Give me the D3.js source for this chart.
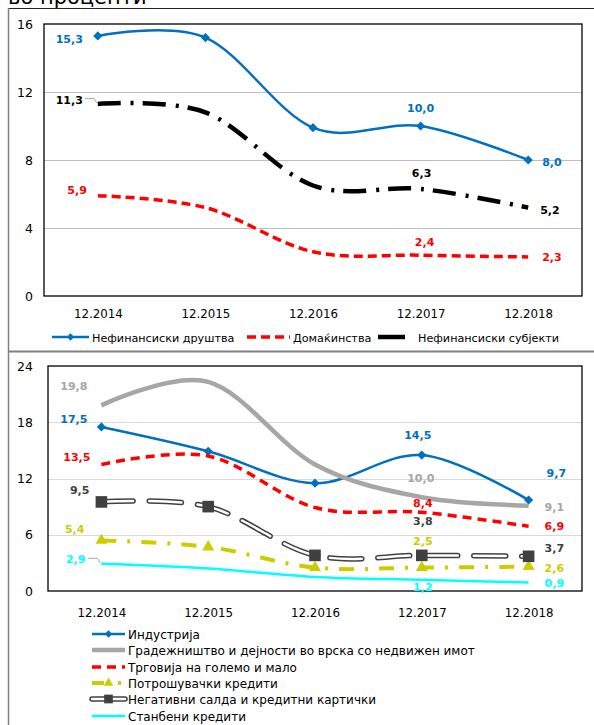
<!DOCTYPE html>
<html><head><meta charset="utf-8">
<script src="https://cdn.jsdelivr.net/npm/d3@7"></script>
<style>body{margin:0;background:#fff} svg{display:block}</style>
</head><body>
<script>
// ---------- DATA ----------
const categories = ["12.2014", "12.2015", "12.2016", "12.2017", "12.2018"];

// top panel
const nefDrustva   = [15.3, 15.2, 9.9, 10.0, 8.0];
const domakinstva  = [5.9, 5.2, 2.6, 2.4, 2.3];
const nefSubjekti  = [11.3, 10.8, 6.5, 6.3, 5.2];
const topTicks     = [0, 4, 8, 12, 16];

// bottom panel
const industrija   = [17.5, 14.9, 11.5, 14.5, 9.7];
const gradeznistvo = [19.8, 22.3, 13.5, 10.0, 9.1];
const trgovija     = [13.5, 14.4, 8.9, 8.4, 6.9];
const potrosuvacki = [5.4, 4.7, 2.5, 2.5, 2.6];
const negativni    = [9.5, 9.0, 3.8, 3.8, 3.7];
const stanbeni     = [2.9, 2.4, 1.5, 1.2, 0.9];
const bottomTicks  = [0, 6, 12, 18, 24];

const titleText = "во проценти";

// ---------- STYLE ----------
const W = 594, H = 725;
const FONT = "DejaVu Sans, Verdana, sans-serif";
const fmt = v => d3.format(".1f")(v).replace(".", ",");

const svg = d3.select("body").append("svg").attr("width", W).attr("height", H);

// title (partially cut at top, as in the reference)
svg.append("text").attr("x", 8).attr("y", 4).attr("font-family", FONT)
  .attr("font-size", 21).attr("fill", "#000").text(titleText);

// outer frame
svg.append("line").attr("x1", 9).attr("x2", W).attr("y1", 8.5).attr("y2", 8.5)
  .attr("stroke", "#222").attr("stroke-width", 1);
svg.append("line").attr("x1", 8.5).attr("x2", 8.5).attr("y1", 8).attr("y2", H)
  .attr("stroke", "#808080").attr("stroke-width", 1.5);
svg.append("line").attr("x1", 9).attr("x2", W).attr("y1", 351.5).attr("y2", 351.5)
  .attr("stroke", "#808080").attr("stroke-width", 2);

const topSeries = [
  {name: "Нефинансиски друштва", values: nefDrustva, color: "#0070C0", width: 2.5, kind: "solid", marker: "diamond"},
  {name: "Домаќинства", values: domakinstva, color: "#FF0000", width: 3.5, kind: "dash", dash: "9,5"},
  {name: "Нефинансиски субјекти", values: nefSubjekti, color: "#000000", width: 4.5, kind: "dash", dash: "23,10,3,9", legendDash: null}
];

const bottomSeries = [
  {name: "Индустрија", values: industrija, color: "#0070C0", width: 2.5, kind: "solid", marker: "diamond"},
  {name: "Градежништво и дејности во врска со недвижен имот", values: gradeznistvo, color: "#A6A6A6", width: 4.5, kind: "solid"},
  {name: "Трговија на големо и мало", values: trgovija, color: "#FF0000", width: 3.5, kind: "dash", dash: "9,6"},
  {name: "Потрошувачки кредити", values: potrosuvacki, color: "#CCCC00", width: 4, kind: "dash", dash: "15,11,3,11", marker: "triangle"},
  {name: "Негативни салда и кредитни картички", values: negativni, color: "#404040", width: 5.5, kind: "double", dash: "32,16", marker: "square", labelColor: "#404040"},
  {name: "Станбени кредити", values: stanbeni, color: "#00FFFF", width: 2.5, kind: "solid"}
];

// label placement: [series, category, anchor, dx, dy(center offset)]
const topLabels = [
  [0, 0, "end", -15, 3], [0, 3, "middle", 0, -18], [0, 4, "start", 14, 2],
  [1, 0, "end", -11, -6], [1, 3, "middle", 4, -13], [1, 4, "start", 14, 0],
  [2, 0, "end", -15, -4], [2, 3, "middle", 1, -16], [2, 4, "start", 12, 2]
];
const bottomLabels = [
  [0, 0, "end", -14, -8], [0, 3, "middle", -4, -20], [0, 4, "start", 18, -27],
  [1, 0, "end", -14, -19], [1, 3, "middle", -1, -19], [1, 4, "start", 16, 1],
  [2, 0, "end", -11, -7], [2, 3, "middle", 1, -9], [2, 4, "start", 16, 0],
  [3, 0, "end", -17, -11], [3, 3, "middle", 1, -27], [3, 4, "start", 16, 1],
  [4, 0, "end", -12, -12], [4, 3, "middle", 1, -34], [4, 4, "start", 16, -8],
  [5, 0, "end", -16, -5], [5, 3, "middle", 1, 7], [5, 4, "start", 16, 0]
];

function markerPath(type) {
  if (type === "diamond") return d3.symbol(d3.symbolSquare, 42)();
  if (type === "triangle") return d3.symbol(d3.symbolTriangle, 62)();
  if (type === "square") return d3.symbol(d3.symbolSquare, 135)();
  return null;
}
function drawMarker(g, type, x, y, color, scaleF = 1) {
  const p = g.append("path").attr("d", markerPath(type)).attr("fill", color);
  const rot = type === "diamond" ? " rotate(45)" : "";
  p.attr("transform", `translate(${x},${y})${rot} scale(${scaleF})`);
}

function strokeLine(g, dStr, s, isLegend) {
  if (s.kind === "double") {
    g.append("path").attr("d", dStr).attr("fill", "none").attr("stroke", s.color)
      .attr("stroke-width", s.width).attr("stroke-linecap", "round")
      .attr("stroke-dasharray", isLegend ? null : s.dash);
    g.append("path").attr("d", dStr).attr("fill", "none").attr("stroke", "#fff")
      .attr("stroke-width", s.width - 3).attr("stroke-linecap", "round")
      .attr("stroke-dasharray", isLegend ? null : s.dash);
  } else {
    const dash = isLegend && s.legendDash === null ? null : (s.dash || null);
    g.append("path").attr("d", dStr).attr("fill", "none").attr("stroke", s.color)
      .attr("stroke-width", s.width).attr("stroke-dasharray", dash);
  }
}

function drawPanel(p) {
  const g = svg.append("g");
  const x = d3.scalePoint().domain(categories).range([p.x0, p.x1]).padding(0.5);
  const y = d3.scaleLinear().domain([p.ticks[0], p.ticks[p.ticks.length - 1]]).range([p.y1, p.y0]);

  // gridlines
  g.selectAll(".grid").data(p.ticks.slice(1, -1)).enter().append("line")
    .attr("x1", p.x0).attr("x2", p.x1).attr("y1", d => Math.round(y(d)) + 0.5).attr("y2", d => Math.round(y(d)) + 0.5)
    .attr("stroke", p.gridColor).attr("stroke-width", 1);

  // y-axis labels
  const ya = d3.axisLeft(y).tickValues(p.ticks).tickSize(0).tickPadding(0).tickFormat(d3.format("d"));
  const yg = g.append("g").attr("transform", `translate(${33},0)`).call(ya);
  yg.select(".domain").remove();
  yg.selectAll("text").attr("font-family", FONT).attr("font-size", 12.5).attr("fill", "#000");

  // x-axis labels
  const xa = d3.axisBottom(x).tickSize(0).tickPadding(0);
  const xg = g.append("g").attr("transform", `translate(0,${p.y1 + p.xLabelOff})`).call(xa);
  xg.select(".domain").remove();
  xg.selectAll("text").attr("font-family", FONT).attr("font-size", 11.8).attr("fill", "#000").attr("dy", 0);

  // plot border
  g.append("rect").attr("x", p.x0).attr("y", p.y0).attr("width", p.x1 - p.x0).attr("height", p.y1 - p.y0)
    .attr("fill", "none").attr("stroke", "#000").attr("stroke-width", 1.3);

  // lines
  const line = d3.line().x((d, i) => x(categories[i])).y(d => y(d)).curve(d3.curveCardinal.tension(0));
  p.series.forEach(s => {
    const sg = g.append("g");
    strokeLine(sg, line(s.values), s, false);
    if (s.marker) s.values.forEach((v, i) => drawMarker(sg, s.marker, x(categories[i]), y(v), s.color));
  });

  // leader lines
  p.leaders.forEach(si => {
    const s = p.series[si];
    const px = x(categories[0]), py = y(s.values[0]);
    g.append("path").attr("d", `M${px - 13},${py - 5.5}H${px - 4}L${px - 1},${py - 1}`)
      .attr("fill", "none").attr("stroke", "#A6A6A6").attr("stroke-width", 1);
  });

  // labels
  p.labels.forEach(([si, ci, anchor, dx, dy]) => {
    const s = p.series[si];
    const v = s.values[ci];
    g.append("text").attr("x", x(categories[ci]) + dx).attr("y", y(v) + dy + 4)
      .attr("text-anchor", anchor).attr("font-family", FONT).attr("font-weight", "bold")
      .attr("font-size", 11).attr("fill", s.labelColor || s.color).text(fmt(v));
  });
  return {x, y};
}

drawPanel({x0: 44, x1: 582, y0: 24, y1: 296, ticks: topTicks, series: topSeries, labels: topLabels,
  xLabelOff: 22, gridColor: "#BFBFBF", leaders: [2]});
drawPanel({x0: 48, x1: 582, y0: 366, y1: 591, ticks: bottomTicks, series: bottomSeries, labels: bottomLabels,
  xLabelOff: 26, gridColor: "#D9D9D9", leaders: [5]});

// ---------- LEGENDS ----------
// top legend (horizontal)
const topLeg = [
  {x1: 52, x2: 89, tx: 92},
  {x1: 247, x2: 290, tx: 293},
  {x1: 378, x2: 405, tx: 418}
];
const tl = svg.append("g");
topSeries.forEach((s, i) => {
  const L = topLeg[i], cy = 337;
  strokeLine(tl, `M${L.x1},${cy}H${L.x2}`, s, true);
  if (s.marker) drawMarker(tl, s.marker, (L.x1 + L.x2) / 2, cy, s.color, 0.8);
  tl.append("text").attr("x", L.tx).attr("y", cy + 4.5).attr("font-family", FONT).attr("font-size", 11.2)
    .attr("fill", "#000").text(s.name);
});

// bottom legend (vertical)
const bl = svg.append("g");
const legRows = [634, 650, 667, 683, 699, 716];
bottomSeries.forEach((s, i) => {
  const cy = legRows[i];
  const ls = Object.assign({}, s);
  if (s.kind === "dash" && s.marker === "triangle") ls.dash = "12,14,3,20";
  strokeLine(bl, `M92,${cy}H125`, ls, s.kind === "double");
  if (s.marker) drawMarker(bl, s.marker, 108.5, cy, s.color, s.marker === "square" ? 0.75 : 0.8);
  bl.append("text").attr("x", 128).attr("y", cy + 4.5).attr("font-family", FONT).attr("font-size", 12)
    .attr("fill", "#000").text(s.name);
});
</script>
</body></html>
